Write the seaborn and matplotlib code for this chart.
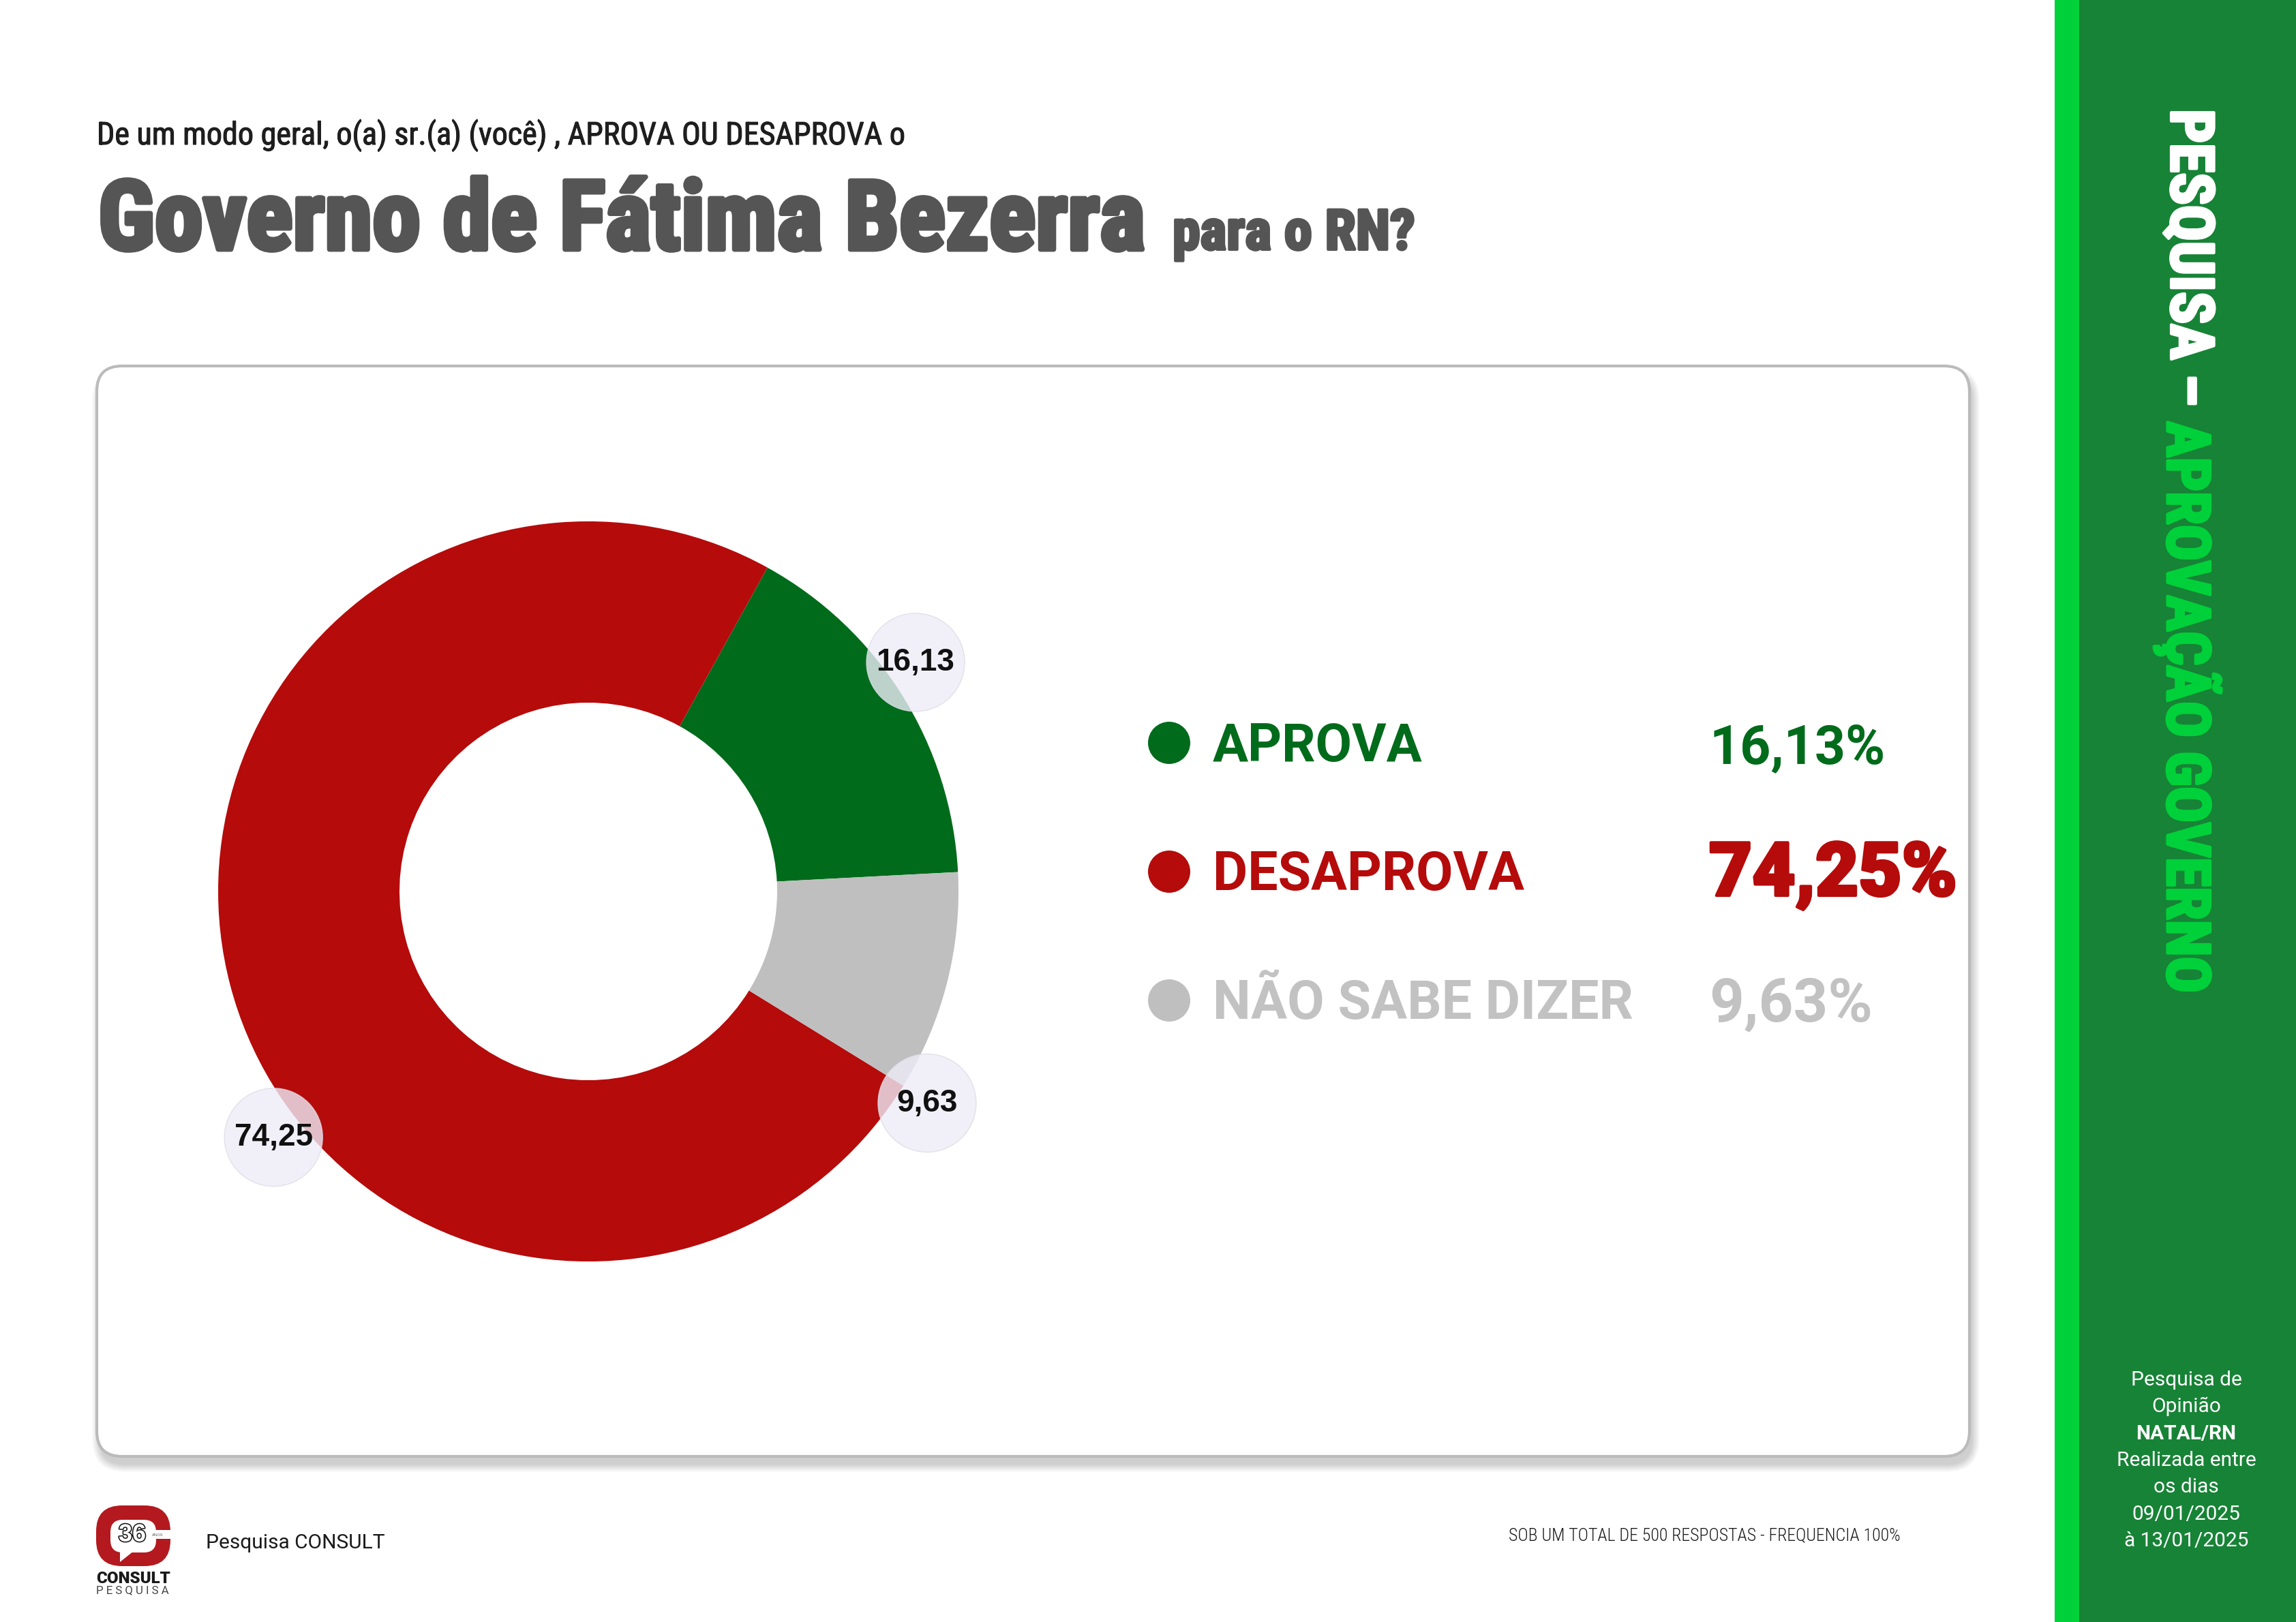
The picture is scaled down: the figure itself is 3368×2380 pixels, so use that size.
import matplotlib
matplotlib.use("Agg")
import matplotlib.pyplot as plt
import matplotlib.patheffects as pe
import seaborn as sns
import numpy as np
import pandas as pd
from matplotlib import font_manager as fm
from matplotlib.patches import FancyBboxPatch, Rectangle, Circle, Polygon

# data
categories = ["APROVA", "DESAPROVA", "NÃO SABE DIZER"]
values = [16.13, 74.25, 9.63]
value_labels = ["16,13", "74,25", "9,63"]
value_texts = ["16,13%", "74,25%", "9,63%"]
slice_colors = ["#006B1B", "#B50B0B", "#BFBFBF"]
text_colors = ["#006B1B", "#B50B0B", "#C2C2C2"]
sidebar_lines = ["Pesquisa de", "Opinião", "NATAL/RN", "Realizada entre",
                 "os dias", "09/01/2025", "à 13/01/2025"]

W, H = 3368, 2380

sns.set_theme(style="white")
plt.rcParams["font.family"] = ["Roboto", "DejaVu Sans"]

names = {f.name for f in fm.fontManager.ttflist}


def pick(*cands):
    for c in cands:
        if c in names:
            return c
    return "DejaVu Sans"


COND = pick("Roboto Condensed", "Liberation Sans Narrow", "DejaVu Sans")
ARIAL = pick("Liberation Sans", "DejaVu Sans")

fig = plt.figure(figsize=(W / 100, H / 100), dpi=100)
fig.patch.set_facecolor("white")
bg = fig.add_axes([0, 0, 1, 1])
bg.set_xlim(0, W)
bg.set_ylim(H, 0)
bg.axis("off")
renderer = fig.canvas.get_renderer()


def fit_width(t, target):
    w = t.get_window_extent(renderer).width
    t.set_fontsize(t.get_fontsize() * target / w)
    return t


def heavy(lw, color):
    return [pe.Stroke(linewidth=lw, foreground=color), pe.Normal()]


def to_data(x, y):
    return bg.transData.inverted().transform((x, y))


# header
sub = bg.text(142, 212, "De um modo geral, o(a) sr.(a) (você) , APROVA OU DESAPROVA o",
              family=[COND, "DejaVu Sans"], fontstretch="condensed",
              fontsize=40, color="#1E1E1E", va="baseline")
fit_width(sub, 1185)
sub.set_path_effects(heavy(0.8, "#1E1E1E"))
title = bg.text(144, 366, "Governo de Fátima Bezerra", family=[COND, "DejaVu Sans"],
                fontstretch="condensed", fontweight="black", fontsize=100,
                color="#555555", va="baseline")
fit_width(title, 1536)
title.set_path_effects(heavy(5, "#555555"))
tail = bg.text(1720, 366, "para o RN?", family=[COND, "DejaVu Sans"],
               fontstretch="condensed", fontweight="black", fontsize=60,
               color="#555555", va="baseline")
fit_width(tail, 356)
tail.set_path_effects(heavy(3, "#555555"))

# card with soft shadow
card_x, card_y, card_w, card_h = 142, 537, 2747, 1600
for k in range(12):
    bg.add_patch(FancyBboxPatch((card_x + 4 - k, card_y + 12 - k), card_w + 2 * k, card_h + 2 * k,
                                boxstyle="round,pad=0,rounding_size=%d" % (37 + k),
                                facecolor="#000000", edgecolor="none", alpha=0.014, zorder=1))
bg.add_patch(FancyBboxPatch((card_x, card_y), card_w, card_h,
                            boxstyle="round,pad=0,rounding_size=37",
                            facecolor="white", edgecolor="#BBBBBB", linewidth=3, zorder=2))

# sidebar
bg.add_patch(Rectangle((3014, 0), 36, H, facecolor="#00D13A", edgecolor="none", zorder=2))
bg.add_patch(Rectangle((3050, 0), W - 3050, H, facecolor="#178336", edgecolor="none", zorder=2))

probe = bg.text(0, 0, "PESQUISA – APROVAÇÃO GOVERNO", family=[COND, "DejaVu Sans"],
                fontstretch="condensed", fontweight="black", fontsize=60)
vsize = 60 * 1296 / probe.get_window_extent(renderer).width
probe.remove()
v1 = bg.text(3209, 160, "PESQUISA –", family=[COND, "DejaVu Sans"], fontstretch="condensed",
             fontweight="black", fontsize=vsize, color="white", rotation=-90,
             ha="center", va="top", zorder=3, path_effects=heavy(3, "white"))
bb = v1.get_window_extent(renderer)
y_end = to_data(bb.x0, bb.y0)[1]
bg.text(3209, y_end + vsize * 0.35, "APROVAÇÃO GOVERNO", family=[COND, "DejaVu Sans"],
        fontstretch="condensed", fontweight="black", fontsize=vsize, color="#00D13A",
        rotation=-90, ha="center", va="top", zorder=3, path_effects=heavy(3, "#00D13A"))

for i, line in enumerate(sidebar_lines):
    bg.text(3207, 2033 + i * 39.3, line, fontsize=21.5, color="white", ha="center",
            va="baseline", fontweight="bold" if line == "NATAL/RN" else "normal", zorder=3)

# donut
cx, cy = 863, 1308
R_out, R_in = 543, 277
half = 760
ax = fig.add_axes([(cx - half) / W, (H - cy - half) / H, 2 * half / W, 2 * half / H])
ax.pie(values, colors=slice_colors, startangle=3, counterclock=True, radius=R_out,
       wedgeprops=dict(width=R_out - R_in, edgecolor="none", linewidth=0))
ax.set_xlim(-half, half)
ax.set_ylim(-half, half)
ax.axis("off")
ax.patch.set_alpha(0)

label_angles = [35, 218, -32]
label_r = 586
for lab, ang in zip(value_labels, label_angles):
    lx = label_r * np.cos(np.radians(ang))
    ly = label_r * np.sin(np.radians(ang))
    ax.add_patch(Circle((lx, ly), 72, facecolor="#EEEDF8", edgecolor="#DCDCE6",
                        linewidth=1, alpha=0.8, zorder=5))
    ax.text(lx, ly, lab, family=[ARIAL], fontweight="bold", fontsize=33, color="#111111",
            ha="center", va="center", zorder=6)

# legend
row_y = [1090 + i * 189 for i in range(len(categories))]
legend_df = pd.DataFrame({"cat": categories, "x": [1715] * len(categories), "y": row_y})
sns.scatterplot(data=legend_df, x="x", y="y", hue="cat",
                palette=dict(zip(categories, slice_colors)), s=1990,
                edgecolor="none", legend=False, ax=bg, zorder=4)
bg.set_xlim(0, W)
bg.set_ylim(H, 0)
bg.axis("off")

label_widths = [308, 457, 617]
value_widths = [258, 368, 240]
for i, cat in enumerate(categories):
    t = bg.text(1779, row_y[i] + 27, cat, fontweight="bold", fontsize=55,
                color=text_colors[i], va="baseline", zorder=4)
    fit_width(t, label_widths[i])
    v = bg.text(2507, row_y[i] + 30 + (5 if i == 1 else 0), value_texts[i],
                fontweight="black" if i == 1 else "bold", fontsize=59,
                color=text_colors[i], va="baseline", zorder=4)
    fit_width(v, value_widths[i] - (4 if i == 1 else 0))
    if i == 1:
        v.set_path_effects(heavy(3, text_colors[i]))

# footer
ft = bg.text(302, 2272, "Pesquisa CONSULT", fontsize=22, color="#1A1A1A", va="baseline")
fit_width(ft, 262)
fn = bg.text(2213, 2260, "SOB UM TOTAL DE 500 RESPOSTAS - FREQUENCIA 100%",
             family=[COND, "DejaVu Sans"], fontstretch="condensed", fontweight="light",
             fontsize=22, color="#1A1A1A", va="baseline")
fit_width(fn, 575)

# logo
red = "#B3191F"
bg.add_patch(FancyBboxPatch((141, 2209), 109, 89, boxstyle="round,pad=0,rounding_size=38",
                            facecolor=red, edgecolor="none", zorder=3))
bg.add_patch(FancyBboxPatch((162, 2230), 67, 48, boxstyle="round,pad=0,rounding_size=18",
                            facecolor="white", edgecolor="none", zorder=4))
bg.add_patch(Rectangle((215, 2245), 40, 13, facecolor="white", edgecolor="none", zorder=4))
bg.add_patch(Polygon([(176, 2272), (196, 2276), (176, 2292)], closed=True,
                     facecolor="white", edgecolor="none", zorder=4))
bg.text(194, 2252, "36", family=[ARIAL], fontweight="bold", fontsize=26, color="white",
        ha="center", va="center", zorder=5,
        path_effects=[pe.Stroke(linewidth=2.2, foreground="#111111"), pe.Normal()])
bg.text(231, 2252, "ANOS", fontsize=4.5, color="#666666", ha="center", va="center", zorder=5)
lc = bg.text(141, 2323, "CONSULT", fontweight="black", fontsize=13, color="#1A1A1A",
             va="baseline", zorder=5)
fit_width(lc, 109)
lp = bg.text(141, 2338, "P E S Q U I S A", fontsize=6, color="#444444", va="baseline", zorder=5)
fit_width(lp, 109)

fig.savefig("out.png", dpi=100, facecolor="white")
